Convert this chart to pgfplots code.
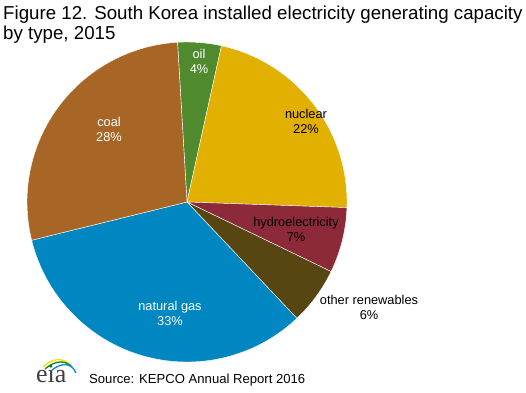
\documentclass[border=0pt]{standalone}
\usepackage{pgfplots}
\pgfplotsset{compat=1.18}
\usepackage{fontspec}
\setmainfont{Liberation Sans}
\newfontfamily\seriffont{Liberation Serif}
\definecolor{oilc}{HTML}{4F8A2F}
\definecolor{nucc}{HTML}{E1B000}
\definecolor{hydc}{HTML}{8C2A3A}
\definecolor{othc}{HTML}{574612}
\definecolor{gasc}{HTML}{0086C0}
\definecolor{coalc}{HTML}{A86626}
% shares (percent)
\def\pOil{4.4}
\def\pNuc{22.1}
\def\pHyd{6.6}
\def\pOth{5.8}
\def\pGas{33.2}
\def\pCoal{27.9}
\pgfmathsetmacro\aA{93.4}
\pgfmathsetmacro\aB{\aA-3.6*\pOil}
\pgfmathsetmacro\aC{\aB-3.6*\pNuc}
\pgfmathsetmacro\aD{\aC-3.6*\pHyd}
\pgfmathsetmacro\aE{\aD-3.6*\pOth}
\pgfmathsetmacro\aF{\aE-3.6*\pGas}
\pgfmathsetmacro\aG{\aF-3.6*\pCoal}
\begin{document}
\begin{tikzpicture}
\begin{axis}[
  width=526pt, height=392pt, scale only axis,
  xmin=0, xmax=526, ymin=0, ymax=392,
  hide axis, clip=false,
]
\path (axis cs:0,0) rectangle (axis cs:526,392);
\newcommand\slice[3]{%
  \fill[#1, draw=white, line width=0.4pt] (axis cs:187,190) -- ++(#2:160pt) arc[start angle=#2, end angle=#3, radius=160pt] -- cycle;}
\slice{oilc}{\aA}{\aB}
\slice{nucc}{\aB}{\aC}
\slice{hydc}{\aC}{\aD}
\slice{othc}{\aD}{\aE}
\slice{gasc}{\aE}{\aF}
\slice{coalc}{\aF}{\aG}
% labels
\tikzset{lab/.style={font=\fontsize{12.8}{15}\selectfont, align=center, inner sep=0pt}}
\node[lab, text=white] at (axis cs:199,331) {oil\\4\%};
\node[lab, text=black] at (axis cs:306,270.5) {nuclear\\22\%};
\node[lab, text=black] at (axis cs:296,162.8) {hydroelectricity\\7\%};
\node[lab, text=black] at (axis cs:369,84.2) {other renewables\\6\%};
\node[lab, text=white] at (axis cs:170,78.5) {natural gas\\33\%};
\node[lab, text=white] at (axis cs:109,262.8) {coal\\28\%};
% title
\node[anchor=base west, inner sep=0pt, font=\fontsize{18.7}{20}\selectfont] at (axis cs:3,373) {Figure 12. South Korea installed electricity generating capacity};
\node[anchor=base west, inner sep=0pt, font=\fontsize{18.7}{20}\selectfont] at (axis cs:3,353) {by type, 2015};
% source
\node[anchor=base west, inner sep=0pt, font=\fontsize{13.1}{14}\selectfont] at (axis cs:89,8.7) {Source: KEPCO Annual Report 2016};
% eia logo
\node[anchor=base west, inner sep=0pt, font=\seriffont\fontsize{26}{26}\selectfont, text=black!75] at (axis cs:36,9.3) {eia};
\draw[color=yellow!80!orange, line width=1.3pt] (axis cs:43,25) .. controls (axis cs:52,34) and (axis cs:62,34) .. (axis cs:68,29);
\draw[color=green!55!black, line width=1.3pt] (axis cs:45,23) .. controls (axis cs:55,32) and (axis cs:66,32) .. (axis cs:72,25);
\draw[color=cyan!70!blue, line width=1.3pt] (axis cs:52,22) .. controls (axis cs:62,30) and (axis cs:72,29) .. (axis cs:76,19);
\end{axis}
\end{tikzpicture}
\end{document}
